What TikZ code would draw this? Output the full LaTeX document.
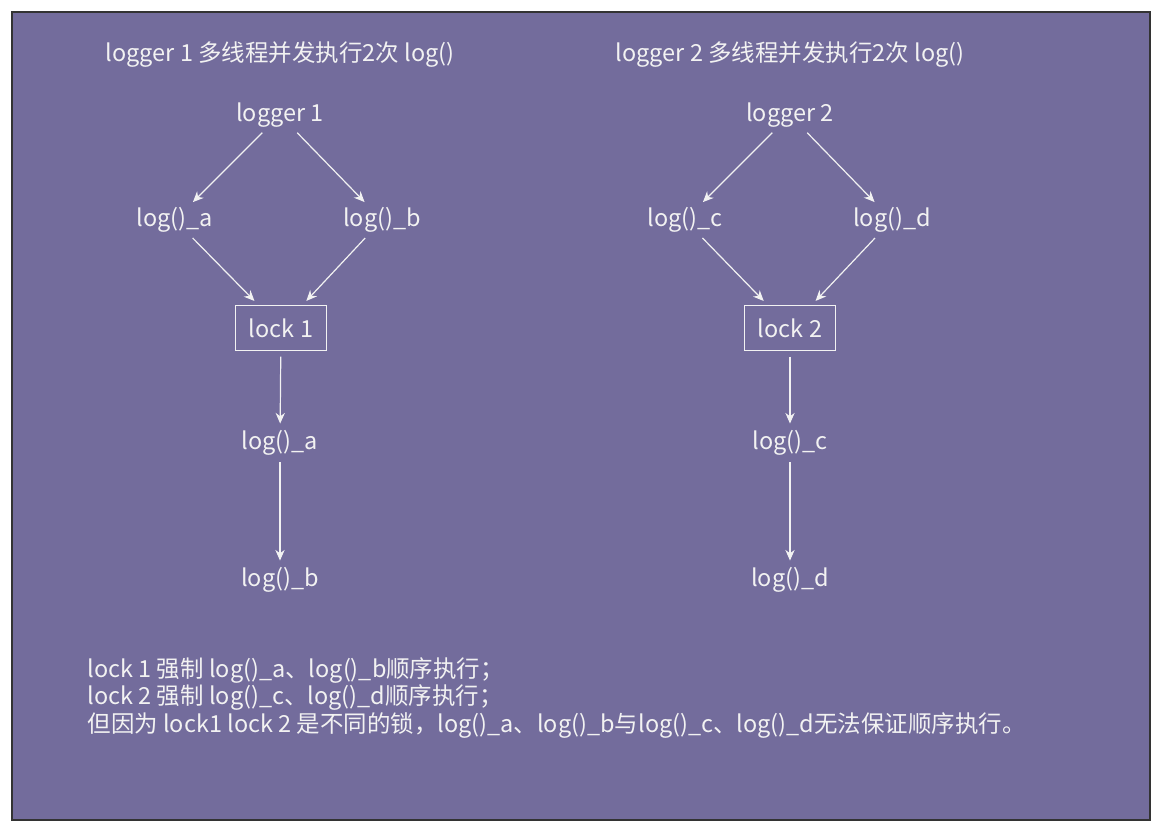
\documentclass[tikz,border=0pt]{standalone}
\usepackage{fontspec}
\setmainfont{Noto Sans CJK SC}
\usetikzlibrary{arrows.meta}
\definecolor{bg}{HTML}{736C9C}
\definecolor{fg}{HTML}{F2F2F2}
\begin{document}
\begin{tikzpicture}[x=0.75pt,y=-0.75pt,
  lbl/.style={text=fg,font=\fontsize{17.6}{20}\selectfont,inner sep=1pt},
  box/.style={lbl,draw=fg,line width=0.8pt,minimum width=68pt,minimum height=34pt},
  arr/.style={draw=fg,line width=0.9pt,-{Stealth[length=8pt,width=7pt]},shorten >=4pt,shorten <=4pt}]
\useasboundingbox (0,0) rectangle (1161,831);
\fill[white] (0,0) rectangle (1161,831);
\draw[fill=bg,draw=black!80,line width=1pt] (12,12) rectangle (1150,820);
\node[lbl] (t1) at (280,55) {logger 1 多线程并发执行2次 log()};
\node[lbl] (t2) at (790,55) {logger 2 多线程并发执行2次 log()};
\node[lbl] (g1) at (280,115) {logger 1};
\node[lbl] (a1) at (175,220) {log()\_a};
\node[lbl] (b1) at (382,220) {log()\_b};
\node[box] (k1) at (281,328) {lock 1};
\node[lbl] (a2) at (280,443) {log()\_a};
\node[lbl] (b2) at (280,580) {log()\_b};
\node[lbl] (g2) at (790,115) {logger 2};
\node[lbl] (c1) at (685,220) {log()\_c};
\node[lbl] (d1) at (892,220) {log()\_d};
\node[box] (k2) at (790,328) {lock 2};
\node[lbl] (c2) at (790,443) {log()\_c};
\node[lbl] (d2) at (790,580) {log()\_d};
\draw[arr] (g1) -- (a1); \draw[arr] (g1) -- (b1);
\draw[arr] (a1) -- (k1); \draw[arr] (b1) -- (k1);
\draw[arr] (k1) -- (a2); \draw[arr] (a2) -- (b2);
\draw[arr] (g2) -- (c1); \draw[arr] (g2) -- (d1);
\draw[arr] (c1) -- (k2); \draw[arr] (d1) -- (k2);
\draw[arr] (k2) -- (c2); \draw[arr] (c2) -- (d2);
\node[lbl,anchor=north west,align=left,font=\fontsize{17.6}{20.6}\selectfont] (note) at (86,656)
{lock 1 强制 log()\_a、log()\_b顺序执行；\\
lock 2 强制 log()\_c、log()\_d顺序执行；\\
但因为 lock1 lock 2 是不同的锁，log()\_a、log()\_b与log()\_c、log()\_d无法保证顺序执行。};
\end{tikzpicture}
\end{document}
